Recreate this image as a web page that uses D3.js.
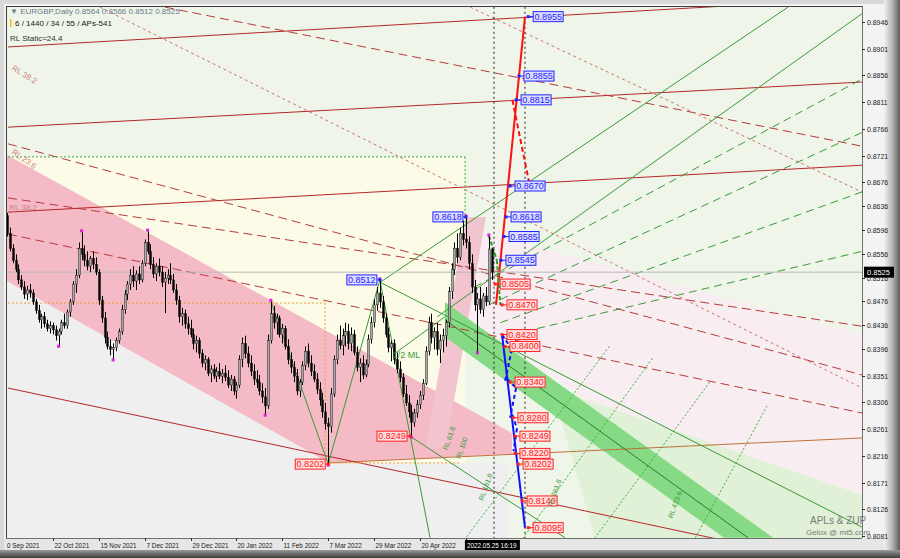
<!DOCTYPE html>
<html><head><meta charset="utf-8">
<script src="https://cdn.jsdelivr.net/npm/d3@7/dist/d3.min.js"></script>
<style>body{margin:0;background:#888}svg{display:block}text{font-family:"Liberation Sans",Arial,sans-serif}</style>
</head><body><svg id="c" width="900" height="558"></svg>
<script>
// ---------- DATA (prices x10000) ----------
const opens = [8620,8590,8565,8545,8530,8512,8500,8488,8495,8490,8475,8460,8445,8450,8438,8430,8435,8428,8418,8425,8440,8435,8458,8475,8505,8520,8565,8555,8545,8535,8548,8538,8525,8478,8448,8415,8400,8395,8398,8410,8425,8462,8488,8505,8520,8510,8522,8512,8540,8575,8560,8538,8522,8535,8525,8508,8515,8520,8512,8495,8478,8450,8455,8438,8430,8420,8405,8410,8388,8372,8378,8355,8362,8350,8358,8350,8355,8348,8335,8345,8325,8335,8378,8405,8388,8372,8358,8345,8340,8325,8315,8300,8410,8455,8440,8448,8420,8430,8400,8378,8365,8350,8325,8340,8368,8392,8372,8358,8345,8328,8310,8290,8270,8265,8320,8378,8410,8402,8418,8425,8405,8420,8390,8365,8372,8352,8370,8412,8440,8470,8490,8475,8448,8420,8398,8405,8378,8362,8348,8320,8305,8290,8272,8288,8302,8318,8338,8392,8440,8415,8425,8395,8410,8418,8440,8492,8530,8565,8550,8590,8580,8575,8540,8500,8470,8480,8462,8485,8475,8564];
const highs = [8625,8600,8572,8555,8538,8520,8510,8502,8505,8496,8480,8470,8455,8458,8445,8442,8440,8435,8430,8445,8455,8462,8480,8510,8530,8575,8593,8570,8560,8552,8560,8550,8530,8485,8458,8425,8412,8405,8415,8430,8470,8495,8510,8530,8535,8528,8535,8545,8580,8594,8572,8550,8540,8548,8535,8525,8530,8540,8522,8505,8485,8465,8462,8450,8445,8430,8418,8415,8395,8385,8382,8368,8370,8365,8372,8362,8368,8360,8352,8350,8340,8385,8415,8418,8400,8385,8370,8360,8352,8338,8330,8420,8476,8468,8455,8452,8438,8435,8412,8390,8375,8362,8345,8375,8400,8405,8385,8370,8355,8340,8322,8305,8280,8330,8385,8420,8435,8430,8440,8438,8432,8428,8400,8380,8385,8378,8420,8450,8480,8500,8512,8485,8455,8432,8410,8412,8390,8375,8355,8335,8318,8302,8295,8310,8325,8345,8400,8450,8455,8432,8440,8420,8430,8445,8500,8540,8575,8590,8600,8612,8618,8585,8555,8512,8490,8500,8490,8500,8586,8566];
const lows = [8585,8560,8540,8525,8505,8495,8480,8478,8482,8470,8455,8440,8430,8432,8425,8422,8420,8410,8402,8420,8430,8430,8450,8470,8490,8515,8545,8535,8528,8525,8530,8520,8470,8440,8405,8395,8385,8379,8392,8405,8420,8455,8478,8495,8500,8495,8505,8508,8535,8555,8530,8515,8510,8518,8500,8456,8505,8505,8490,8470,8440,8435,8430,8420,8415,8395,8390,8380,8365,8360,8350,8340,8345,8340,8345,8338,8342,8330,8325,8318,8312,8330,8365,8380,8365,8350,8335,8330,8318,8305,8286,8295,8405,8430,8420,8415,8405,8395,8370,8355,8340,8318,8315,8335,8360,8365,8350,8340,8320,8300,8280,8260,8202,8255,8315,8370,8395,8385,8400,8395,8392,8385,8358,8340,8345,8348,8365,8405,8432,8460,8465,8440,8415,8390,8375,8370,8355,8340,8315,8300,8280,8249,8265,8280,8295,8310,8335,8385,8405,8395,8385,8372,8390,8400,8432,8480,8520,8540,8545,8570,8565,8530,8490,8460,8391,8455,8450,8468,8470,8512];
const closes = [8590,8565,8545,8530,8512,8500,8488,8495,8490,8475,8460,8445,8450,8438,8430,8435,8428,8418,8425,8440,8435,8458,8475,8505,8520,8565,8555,8545,8535,8548,8538,8525,8478,8448,8415,8400,8395,8398,8410,8425,8462,8488,8505,8520,8510,8522,8512,8540,8575,8560,8538,8522,8535,8525,8508,8515,8520,8512,8495,8478,8450,8455,8438,8430,8420,8405,8410,8388,8372,8378,8355,8362,8350,8358,8350,8355,8348,8335,8345,8325,8335,8378,8405,8388,8372,8358,8345,8340,8325,8315,8300,8410,8455,8440,8448,8420,8430,8400,8378,8365,8350,8325,8340,8368,8392,8372,8358,8345,8328,8310,8290,8270,8265,8320,8378,8410,8402,8418,8425,8405,8420,8390,8365,8372,8352,8370,8412,8440,8470,8490,8475,8448,8420,8398,8405,8378,8362,8348,8320,8305,8290,8272,8288,8302,8318,8338,8392,8440,8415,8425,8395,8410,8418,8440,8492,8530,8565,8550,8590,8580,8575,8540,8500,8470,8480,8462,8485,8475,8564,8525];
const fractalHighIdx = [26,49,92,130,160,168];
const fractalLowIdx = [18,37,90,112,141,164];

const dateLabels = ["30 Sep 2021","22 Oct 2021","15 Nov 2021","7 Dec 2021","29 Dec 2021","20 Jan 2022","11 Feb 2022","7 Mar 2022","29 Mar 2022","20 Apr 2022"];
const dateLabelIdx = [-1.7,16,32,48,64,80,96,112,128,144];
const priceTicks = [0.8946,0.8901,0.8856,0.8811,0.8766,0.8721,0.8676,0.8636,0.8596,0.8556,0.8516,0.8476,0.8436,0.8396,0.8351,0.8306,0.8261,0.8216,0.8171,0.8126,0.8081];
const lastPrice = 0.8525;
const header = "EURGBP,Daily  0.8564 0.8566 0.8512 0.8525";
const timeLabel = "2022.05.25 16:19";

const levelValues = [0.8955,0.8855,0.8815,0.8670,0.8618,0.8585,0.8545,0.8505,0.8470,0.8420,0.8400,0.8340,0.8280,0.8249,0.8220,0.8202,0.8140,0.8095,0.8618,0.8512,0.8249,0.8202];
const levelColor  = ["b","b","b","b","b","b","b","r","r","r","r","r","r","r","r","r","r","r","b","b","r","r"];
const levelIdx    = [181.7,178.5,177.5,175.4,174.0,173.3,172.2,170.2,172.6,172.6,173.6,175.4,176.4,177.1,177.1,178.2,179.6,181.7,160,130,140.5,112];
const levelSide   = ["R","R","R","R","R","R","R","R","R","R","R","R","R","R","R","R","R","R","L","L","L","L"];

const lines = [
  [0.35,0.8904,298.1,0.8986,"red"],
  [0.35,0.8769,298.1,0.8845,"red"],
  [0.35,0.8626,298.1,0.8705,"red"],
  [112.3,0.8204,298.1,0.8246,"brown"],
  [0.35,0.8330,298.1,0.8024,"red"],
  [55.1,0.8971,298.1,0.8737,"redDash"],
  [0.35,0.8741,298.1,0.8352,"redDash"],
  [0.35,0.8650,298.1,0.8434,"redDash"],
  [0.35,0.8589,298.1,0.8288,"redDash"],
  [32.4,0.8971,298.1,0.8330,"redDot"],
  [161.5,0.8971,298.1,0.8660,"redDot"],
  [0.35,0.8719,159.7,0.8719,"greenDot"],
  [159.7,0.8719,159.7,0.8600,"greenDot"],
  [0.35,0.8473,110.9,0.8473,"orangeDot"],
  [110.9,0.8473,110.9,0.8204,"orangeDot"],
  [112.3,0.8204,158,0.8204,"orangeDot"],
  [92,0.8476,112,0.8202,"green"],
  [112,0.8202,130,0.8512,"green"],
  [130,0.8512,147.5,0.8078,"green"],
  [130.1,0.8508,272.3,0.8971,"green"],
  [130.1,0.8508,298.1,0.8096,"green"],
  [140.5,0.8249,194.6,0.8078,"green"],
  [134.6,0.8386,152.7,0.8450,"green"],
  [150,0.8450,298.1,0.8960,"green"],
  [152.7,0.8445,258.4,0.8078,"greenDark"],
  [163,0.8500,298.1,0.8850,"greenDash"],
  [168,0.8470,298.1,0.8760,"greenDash"],
  [172,0.8440,298.1,0.8660,"greenDash"],
  [176,0.8420,298.1,0.8560,"greenDash"],
  [210,0.8400,160,0.8078,"greenDot"],
  [225,0.8380,180,0.8078,"greenDot"],
  [245,0.8340,205,0.8078,"greenDot"],
  [265,0.8300,240,0.8078,"greenDot"],
  [169.8,0.8980,169.8,0.8070,"blackDot"],
  [180.6,0.8980,180.6,0.8070,"blackDot"],
  [170.5,0.8470,180.6,0.8955,"redThick"],
  [176.2,0.8815,182.5,0.8665,"redDashThick"],
  [172.6,0.8420,180.6,0.8095,"blueThick"]
];
const blueDash = [[172.6,0.8420,176.0,0.8395],[176.0,0.8395,173.6,0.8340],[174.5,0.8345,177.5,0.8330],[177.5,0.8330,175.4,0.8280],[176.2,0.8285,177.8,0.8262],[177.8,0.8262,176.6,0.8224]];
const greenZig = [[168,0.8586,170.8,0.8545],[170.8,0.8545,172,0.8470]];

const W=900,H=558, L=7, R=862, T=7, B=538;
const x = d3.scaleLinear().domain([0,298.1]).range([7,862]);
const y = d3.scaleLinear().domain([0.8081,0.8946]).range([536,22]);
const pv = v => v/10000;

const svg = d3.select("#c");
const defs = svg.append("defs");
const gr = defs.append("linearGradient").attr("id","gR").attr("x1",0).attr("x2",1);
gr.append("stop").attr("offset","0").attr("stop-color","#f2f2f2");
gr.append("stop").attr("offset","0.5").attr("stop-color","#b8b8b8");
gr.append("stop").attr("offset","1").attr("stop-color","#5c5c5c");
const gb = defs.append("linearGradient").attr("id","gB").attr("x1",0).attr("x2",0).attr("y1",0).attr("y2",1);
gb.append("stop").attr("offset","0").attr("stop-color","#9a9a9a");
gb.append("stop").attr("offset","1").attr("stop-color","#3c3c3c");
svg.append("rect").attr("width",W).attr("height",H).attr("fill","#d8d8d8");
svg.append("rect").attr("x",884).attr("y",0).attr("width",16).attr("height",H).attr("fill","url(#gR)");
svg.append("rect").attr("x",0).attr("y",550).attr("width",W).attr("height",8).attr("fill","url(#gB)");
svg.append("rect").attr("x",4).attr("y",4).attr("width",880).attr("height",546).attr("fill","#f3f3f3");
svg.append("rect").attr("x",4).attr("y",538).attr("width",880).attr("height",12).attr("fill","#e6e6e6");

const clip = defs.append("clipPath").attr("id","pc");
clip.append("rect").attr("x",L).attr("y",T).attr("width",R-L).attr("height",B-T);
const plot = svg.append("g").attr("clip-path","url(#pc)");
plot.append("rect").attr("x",L).attr("y",T).attr("width",R-L).attr("height",B-T).attr("fill","#eff6e9");

const P = (i,p)=>[x(i),y(p)];
function poly(pts, fill, op){ plot.append("path").attr("d","M"+pts.map(d=>P(d[0],d[1]).join(",")).join("L")+"Z").attr("fill",fill).attr("opacity",op||1); }
poly([[0.35,0.8719],[159.7,0.8719],[159.7,0.8204],[0.35,0.8204]],"#fbfbe7");
poly([[159.7,0.8600],[298.1,0.8420],[298.1,0.8096],[250,0.8150],[159.7,0.8450]],"#f8eef1");
poly([[0.35,0.8510],[112.3,0.8204],[175,0.8204],[175,0.8078],[0.35,0.8078]],"#efeff0");
poly([[0,0.8722],[176.1,0.8254],[176.1,0.8219],[112.3,0.8204],[0,0.8510]],"#f4bac6");
poly([[146,0.8230],[160,0.8618],[167,0.8618],[153,0.8230]],"#f2c4cf");
poly([[190,0.8330],[298.1,0.8150],[298.1,0.8060],[205,0.8078]],"#e0f1d8");
poly([[152.7,0.8475],[267.1,0.8078],[250,0.8078],[152.7,0.8416]],"#86da86");

const styles = {
  red:{c:"#b42828",w:1,d:null}, brown:{c:"#c0703a",w:1,d:null},
  redDash:{c:"#b83a3a",w:1,d:"9,5"}, redDot:{c:"#c85050",w:0.8,d:"3,3"},
  greenDot:{c:"#3cae3c",w:1,d:"2,2"}, orangeDot:{c:"#f0a030",w:1,d:"2,2"},
  green:{c:"#3a9a3a",w:1,d:null}, greenDark:{c:"#2a7a2a",w:1,d:null}, greenDash:{c:"#3a9a3a",w:1,d:"8,5"},
  blackDot:{c:"#202020",w:1,d:"2,3"}, redThick:{c:"#ff1010",w:2,d:null},
  redDashThick:{c:"#ff1010",w:2,d:"5,3"}, blueThick:{c:"#1010ff",w:2,d:null}
};
lines.forEach(l=>{const s=styles[l[4]];
  plot.append("line").attr("x1",x(l[0])).attr("y1",y(l[1])).attr("x2",x(l[2])).attr("y2",y(l[3]))
   .attr("stroke",s.c).attr("stroke-width",s.w).attr("stroke-dasharray",s.d);});
blueDash.forEach(l=>plot.append("line").attr("x1",x(l[0])).attr("y1",y(l[1])).attr("x2",x(l[2])).attr("y2",y(l[3])).attr("stroke","#1010ff").attr("stroke-width",2).attr("stroke-dasharray","4,3"));
greenZig.forEach(l=>plot.append("line").attr("x1",x(l[0])).attr("y1",y(l[1])).attr("x2",x(l[2])).attr("y2",y(l[3])).attr("stroke","#20a020").attr("stroke-width",2).attr("stroke-dasharray","4,2"));

plot.append("line").attr("x1",L).attr("x2",R).attr("y1",y(lastPrice)).attr("y2",y(lastPrice)).attr("stroke","#b8b8b8").attr("stroke-width",1);

const cg = plot.append("g");
closes.forEach((c,i)=>{
  const o=pv(opens[i]), h=pv(highs[i]), l=pv(lows[i]), cc=pv(c);
  const xi=Math.round(x(i))+0.5;
  cg.append("line").attr("x1",xi).attr("x2",xi).attr("y1",y(h)).attr("y2",y(l)).attr("stroke","#000").attr("stroke-width",1);
  const top=y(Math.max(o,cc)), bot=y(Math.min(o,cc));
  cg.append("rect").attr("x",xi-1).attr("y",top).attr("width",2).attr("height",Math.max(1,bot-top))
    .attr("fill", cc>=o?"#a8a8a8":"#000").attr("stroke", "#000").attr("stroke-width",0.4);
});
fractalHighIdx.forEach(i=>plot.append("rect").attr("x",x(i)-1.5).attr("y",y(pv(highs[i]))-2.5).attr("width",3).attr("height",3).attr("fill","#e020e0"));
fractalLowIdx.forEach(i=>plot.append("rect").attr("x",x(i)-1.5).attr("y",y(pv(lows[i]))-0.5).attr("width",3).attr("height",3).attr("fill","#e020e0"));

levelValues.forEach((v,k)=>{
  const blue = levelColor[k]==="b";
  const col = blue?"#2424ff":"#ff2020", fill = blue?"#dcdcff":"#ffdede";
  const ax=x(levelIdx[k]), ay=y(v), w=30, h=10;
  const bx = levelSide[k]==="R"? ax+5 : ax-3-w;
  plot.append("line").attr("x1",ax).attr("x2",levelSide[k]==="R"?bx:bx+w).attr("y1",ay).attr("y2",ay).attr("stroke",col);
  plot.append("rect").attr("x",ax-1.5).attr("y",ay-1.5).attr("width",3).attr("height",3).attr("fill",col);
  plot.append("rect").attr("x",bx).attr("y",ay-h/2).attr("width",w).attr("height",h).attr("fill",fill).attr("stroke",col).attr("stroke-width",1);
  plot.append("text").attr("x",bx+w/2).attr("y",ay+3).attr("text-anchor","middle").attr("font-size",9).attr("fill",col).text(v.toFixed(4));
});

plot.append("text").attr("x",x(134.5)).attr("y",y(0.8380)).attr("font-size",9).attr("fill","#3a9a3a").text("1/2 ML");
[["RL 38.2",1.5,0.8866,32],["RL 23.6",1.5,0.8725,35],["RL 38.2",0.8,0.8630,0]].forEach(t=>
  plot.append("text").attr("transform",`translate(${x(t[1])},${y(t[2])}) rotate(${t[3]})`).attr("font-size",8).attr("fill","#d08080").text(t[0]));
[["RL 161.8",166,0.8140,-70],["RL 261.8",190,0.8130,-70],["RL 423.6",232,0.8110,-70],["RL 61.8",153.5,0.8225,-70],["RL 100",158,0.8210,-70]].forEach(t=>
  plot.append("text").attr("transform",`translate(${x(t[1])},${y(t[2])}) rotate(${t[3]})`).attr("font-size",7).attr("fill","#3a9a3a").text(t[0]));

const hg = svg.append("g");
hg.append("text").attr("x",10).attr("y",14).attr("font-size",8).attr("fill","#6a7a8a").text("▼  "+header);
hg.append("rect").attr("x",10).attr("y",19).attr("width",1.5).attr("height",8).attr("fill","#e8c020");
hg.append("text").attr("x",15).attr("y",26).attr("font-size",8).attr("fill","#202020").text("6 / 1440 / 34 / 55 / APs-541");
hg.append("text").attr("x",10).attr("y",41).attr("font-size",8).attr("fill","#303030").text("RL Static=24.4");
hg.append("text").attr("x",810).attr("y",524).attr("font-size",10).attr("font-family","Liberation Serif").attr("fill","#7a7a7a").text("APLs & ZUP");
hg.append("text").attr("x",806).attr("y",535).attr("font-size",8).attr("font-family","Liberation Serif").attr("fill","#7a7a7a").text("Gelox @ mt5.com");

svg.append("line").attr("x1",6.5).attr("x2",6.5).attr("y1",6).attr("y2",538).attr("stroke","#404040");
svg.append("line").attr("x1",6).attr("x2",862).attr("y1",6.5).attr("y2",6.5).attr("stroke","#404040");
svg.append("line").attr("x1",862.5).attr("x2",862.5).attr("y1",6).attr("y2",538).attr("stroke","#707070");
svg.append("line").attr("x1",6).attr("x2",862).attr("y1",538.5).attr("y2",538.5).attr("stroke","#707070");

const ax = svg.append("g");
function squeeze(t,f){ const n=t.node().getComputedTextLength(); t.attr("textLength",n*f).attr("lengthAdjust","spacingAndGlyphs"); }
priceTicks.forEach(t=>{
  ax.append("line").attr("x1",862).attr("x2",865).attr("y1",Math.round(y(t))+0.5).attr("y2",Math.round(y(t))+0.5).attr("stroke","#303030");
  const tx = ax.append("text").attr("x",867).attr("y",y(t)+3).attr("font-size",7.5).attr("fill","#202020").text(t.toFixed(4));
  squeeze(tx,0.92);
});
ax.append("rect").attr("x",864).attr("y",y(lastPrice)-5.5).attr("width",30).attr("height",11).attr("fill","#000");
ax.append("text").attr("x",867).attr("y",y(lastPrice)+3).attr("font-size",7.5).attr("fill","#fff").text(lastPrice.toFixed(4));

const bclip = defs.append("clipPath").attr("id","bc");
bclip.append("rect").attr("x",7).attr("y",538).attr("width",855).attr("height",12);
const bg = ax.append("g").attr("clip-path","url(#bc)");
dateLabels.forEach((d,k)=>{
  const xi = Math.round(x(dateLabelIdx[k]))+0.5;
  bg.append("line").attr("x1",xi).attr("x2",xi).attr("y1",538).attr("y2",541).attr("stroke","#303030");
  const t = bg.append("text").attr("x",xi+1).attr("y",548).attr("font-size",7.5).attr("fill","#202020").text(d);
  squeeze(t,0.85);
});
bg.append("line").attr("x1",Math.round(x(160))+0.5).attr("x2",Math.round(x(160))+0.5).attr("y1",538).attr("y2",541).attr("stroke","#303030");
ax.append("rect").attr("x",x(160)-1).attr("y",540).attr("width",55).attr("height",10).attr("fill","#000");
const tl = ax.append("text").attr("x",x(160)+1).attr("y",548).attr("font-size",7.5).attr("fill","#fff").text(timeLabel);
squeeze(tl,0.85);
</script></body></html>
